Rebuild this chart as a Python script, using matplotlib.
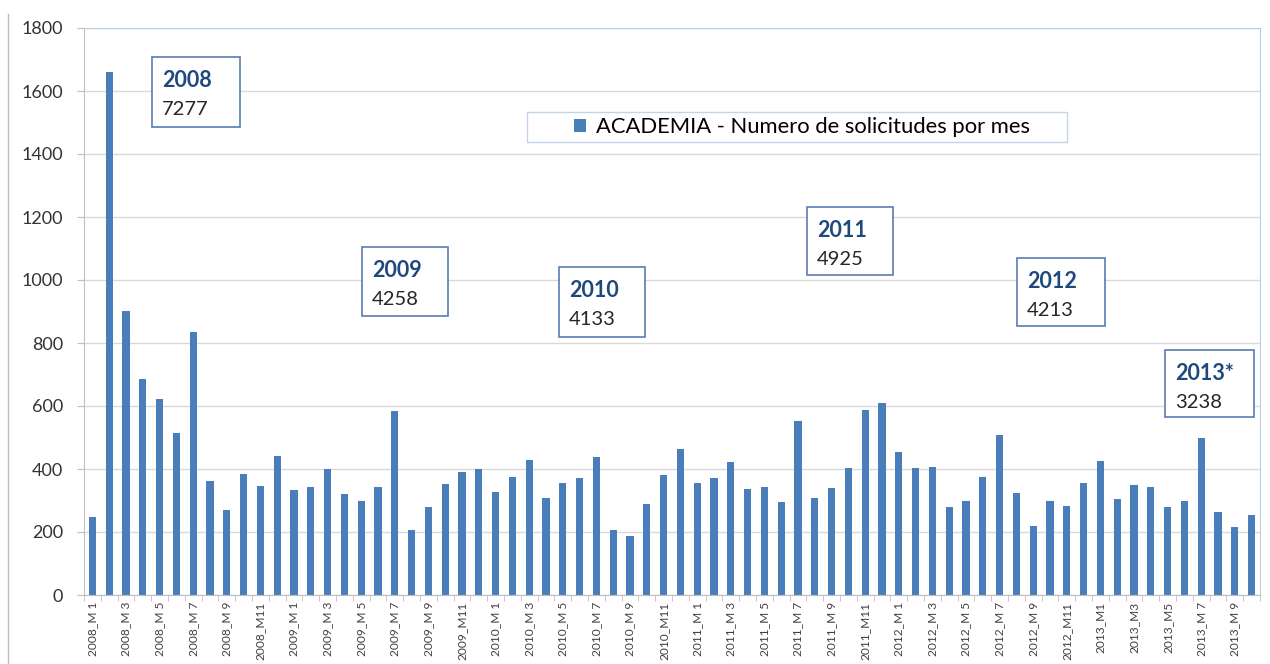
import matplotlib.pyplot as plt
from matplotlib.patches import Rectangle
from matplotlib.lines import Line2D

plt.rcParams['font.family'] = ['Lato', 'DejaVu Sans']

# yearly totals shown in the boxes
year_labels = ['2008', '2009', '2010', '2011', '2012', '2013*']
year_totals = [7277, 4258, 4133, 4925, 4213, 3238]

# monthly requests
v2008 = [248, 1660, 903, 686, 623, 514, 836, 362, 270, 383, 347, 442]
v2009 = [334, 344, 400, 322, 298, 344, 585, 205, 278, 351, 391, 400]
v2010 = [327, 374, 427, 308, 356, 373, 439, 207, 187, 289, 382, 464]
v2011 = [356, 370, 421, 336, 342, 296, 552, 308, 339, 404, 587, 608]
v2012 = [454, 404, 406, 280, 298, 375, 509, 324, 220, 298, 283, 356]
v2013 = [425, 305, 350, 344, 280, 298, 497, 265, 216, 255]

series = {2008: v2008, 2009: v2009, 2010: v2010, 2011: v2011, 2012: v2012, 2013: v2013}

values = []
months = []
for yr, vals in series.items():
    for m in range(1, len(vals) + 1):
        if yr == 2013 and m <= 5:
            months.append(f"{yr}_M{m}")
        else:
            months.append(f"{yr}_M{m:>2}")
    values += vals

# box layout in pixels: left, top, width, height
boxes = [(152, 57, 88, 70), (362, 247, 86, 69), (559, 267, 86, 70),
         (807, 207, 86, 68), (1017, 258, 88, 68), (1165, 350, 89, 67)]

W, H = 1270, 664
fig = plt.figure(figsize=(W / 100, H / 100), dpi=100)
ax = fig.add_axes([84 / W, 1 - 595 / H, (1260 - 84) / W, (595 - 28) / H])

x = list(range(len(values)))
ax.bar(x, values, width=0.42, color='#4A7EBB', label='ACADEMIA - Numero de solicitudes por mes', zorder=2)

ax.set_xlim(-0.5, len(values) - 0.5)
ax.set_ylim(0, 1800)
ax.set_yticks(range(0, 1801, 200))
ax.yaxis.grid(True, color='#D9D9D9', lw=1)
ax.set_axisbelow(True)

ax.set_xticks(x[::2])
ax.set_xticklabels(months[::2], rotation=90, fontsize=8.6, color='#404040', va='top')
ax.set_xticks([i - 0.5 for i in range(len(values) + 1)], minor=True)
ax.tick_params(axis='x', which='major', length=0, pad=5)
ax.tick_params(axis='x', which='minor', length=4, color='#BFBFBF', direction='out')
ax.tick_params(axis='y', length=5, color='#BFBFBF', pad=10, labelsize=13, labelcolor='#333333')

for s in ['left', 'bottom']:
    ax.spines[s].set_color('#BFBFBF')
for s in ['top', 'right']:
    ax.spines[s].set_color('#B9CDE5')

# legend with its own frame
fig.add_artist(Rectangle((527 / W, 1 - 142 / H), 540 / W, 30 / H, transform=fig.transFigure,
                         fill=False, edgecolor='#C5D3E6', lw=1))
ax.legend(loc='center', bbox_to_anchor=(802 / W, 1 - 127 / H), bbox_transform=fig.transFigure,
          frameon=False, fontsize=15.8, handlelength=0.55, handleheight=0.55, handletextpad=0.45)

# year total boxes
for (bx, by, bw, bh), lab, tot in zip(boxes, year_labels, year_totals):
    fig.add_artist(Rectangle((bx / W, 1 - (by + bh) / H), bw / W, bh / H, transform=fig.transFigure,
                             facecolor='white', edgecolor='#5A7BB0', lw=1.2))
    fig.text((bx + 10) / W, 1 - (by + 30) / H, lab, fontsize=15.5, fontweight='bold',
             color='#1F497D', va='baseline')
    fig.text((bx + 10) / W, 1 - (by + 58) / H, str(tot), fontsize=14.5, color='#262626', va='baseline')

fig.add_artist(Line2D([8 / W, 8 / W], [0, 1 - 14 / H], transform=fig.transFigure, color='#BFBFBF', lw=1))

fig.savefig('out.png', dpi=100)
